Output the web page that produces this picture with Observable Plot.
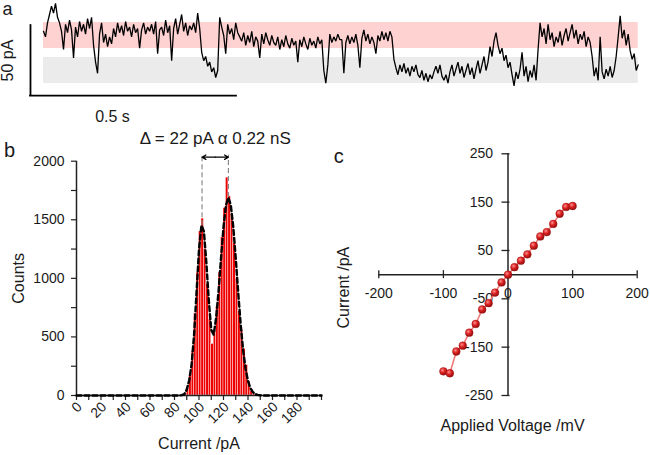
<!DOCTYPE html>
<html><head><meta charset="utf-8">
<script src="https://cdn.jsdelivr.net/npm/d3@7"></script>
<script src="https://cdn.jsdelivr.net/npm/@observablehq/plot@0.6"></script>
<style>
html,body{margin:0;padding:0;background:#fff;}
#root{position:relative;width:650px;height:455px;overflow:hidden;background:#fff;}
#root svg{position:absolute;overflow:visible;}
</style></head><body><div id="root"></div>
<script>
// ---------- Panel a: single-channel current trace (pA), sampled every sampleInterval s ----------
const traceCurrent = [
128,124,134, 140,146,141,148, 138,134, 128,115, 133,127,136,129, 109,
131,124,135,128,133,126,137,130, 138, 118,106,98, 126,134, 120,126,117,124,119,
130,124,134,127,132,125,135,128,131,124,133,127,130,116,129,134,126,131,128,
133,126,135,112,129, 131,125,136,127,132, 107, 130,137,126,133,140,128,134,125,132,
129,134,127,141,130, 113,107,110,103,106,99,102,95,100, 138,
131,125,112,133,126,130,122,134,127,124,
121,127,118,125,120,128,117,124,121,109,126,119,127,122,118,125,120,
118,124,115,122,117,125,119,116,123,118,121,106,122,117,124,119,115,123,118,121,116,124,119,122,
100,91,104, 126,120, 124,121,126,122,
122,98,120,125,119,124,120,126,118,102,123,129,121,126,119,124,120,112,125,121,128,122,127,121,128,124,
108,
102,97,104,99,105,98,102,96,103,99,104,97,
95,100,93,98,92,97,94,99,103,98,104,96,93,97,91,
99,104,96,101,106,98,103,95,100,105,97,102,94,
101,107,98,104,110,100,106,117,
110,121,127,
118,112,116,107,111,102,106,97,89,99,94,101,113,96,103,92,100,95,104,93,
115,
134,124,130,119,133,122,127,117,124,120,128,118,125,130,121,127,133,123,129,119,126,122,128,117,124,120,
110,
96,102,93,124,99,94,101,96,103,95,100,
110,124,139,123,129,118,126,114,108,112,100,104
];
const sampleInterval = 0.00486;        // s
const openBand = [115.7, 134.3];       // pA
const closedBand = [90.7, 109.3];      // pA
const scaleBarCurrent = 50;            // pA
const scaleBarTime = 0.5;              // s
const scaleBarLabels = ["50 pA", "0.5 s"];

// ---------- Panel b: all-points histogram ----------
const binWidth = 2;
const histLow = [88,90,92,94,96,98,100,102,104,106,108,110,112,114,116,118,120,122,124,126,128,130,132,134,136,138,140,142,144];
const histCounts = [15,60,170,380,700,1050,1400,1510,1250,950,650,440,560,760,1050,1350,1600,1860,1700,1550,1300,1000,720,560,400,260,120,40,10];
const fitCurrent = [0,84,86,88,90,92,94,96,98,100,102,104,106,108,110,112,114,116,118,120,122,124,126,128,130,132,134,136,138,140,142,144,146,148,150,152,200];
const fitCounts  = [0,0,3,12,50,130,270,520,880,1248,1453,1401,1134,811,560,520,664,896,1175,1437,1623,1690,1623,1436,1171,880,609,389,229,124,62,29,12,5,2,0,0];
const peakCurrents = [102.5, 124];
const peakCounts = [1450, 1690];
const annotation = "Δ = 22 pA α 0.22 nS";
const histXTicks = d3.range(0, 201, 10);
const histXLabels = d3.range(0, 181, 20);
const histYTicks = d3.range(0, 2001, 250);
const histYLabels = d3.range(0, 2001, 500);

// ---------- Panel c: I-V curve ----------
const ivVoltage = [-100,-90,-80,-70,-60,-50,-40,-30,-20,-10,0,10,20,30,40,50,60,70,80,90,100];
const ivCurrent = [-200,-204,-159,-147,-120,-102,-72,-59,-37,-16,0,15.5,29,42,60,79,88,105,126,140,142];
const ivXTicks = [-200,-100,100,200];
const ivXLabels = [-200,-100,0,100,200];
const ivYTicks = [-250,-150,-50,50,150,250];

// ---------- rendering ----------
const FONT = "'Liberation Sans', Arial, Helvetica, sans-serif";
const INK = "#1a1a1a";
const baseStyle = {fontFamily: FONT, fontSize: "14px", color: INK, background: "transparent", overflow: "visible"};
const C = {textAnchor: "middle", lineAnchor: "middle"};
const root = document.getElementById("root");

// Panel a
const trace = traceCurrent.map((v, i) => ({t: i * sampleInterval, v}));
const tEnd = (traceCurrent.length - 1) * sampleInterval;
const sbT = -0.0316, sbI = 82.1;
const plotA = Plot.plot({
  width: 650, height: 130, margin: 0,
  style: baseStyle,
  x: {domain: [-0.10437, 1.4733], axis: null},
  y: {domain: [57.14, 150], axis: null},
  marks: [
    Plot.rect([openBand], {x1: 0, x2: tEnd, y1: d => d[0], y2: d => d[1], fill: "#ffd2d2"}),
    Plot.rect([closedBand], {x1: 0, x2: tEnd, y1: d => d[0], y2: d => d[1], fill: "#ebebeb"}),
    Plot.line(trace, {x: "t", y: "v", stroke: "#000", strokeWidth: 1.3, strokeLinejoin: "miter"}),
    Plot.ruleX([sbT], {y1: sbI, y2: sbI + scaleBarCurrent, stroke: "#000", strokeWidth: 1.8, strokeLinecap: "square"}),
    Plot.ruleY([sbI], {x1: sbT, x2: sbT + scaleBarTime, stroke: "#000", strokeWidth: 1.8, strokeLinecap: "square"}),
    Plot.text([scaleBarLabels[0]], {...C, frameAnchor: "top-left", dx: 7, dy: 60, rotate: -90, fontSize: 16}),
    Plot.text([scaleBarLabels[1]], {...C, frameAnchor: "top-left", dx: 112, dy: 116, fontSize: 16}),
    Plot.text(["a"], {textAnchor: "start", lineAnchor: "top", frameAnchor: "top-left", dx: 2, dy: 2, fontSize: 18})
  ]
});
plotA.style.left = "0px"; plotA.style.top = "0px";
root.appendChild(plotA);

// Panel b
const hist = histLow.map((lo, i) => ({lo, hi: lo + binWidth, n: histCounts[i]}));
const fit = fitCurrent.map((x, i) => ({x, y: fitCounts[i]}));
const guideTop = 2050, arrowCount = 2034;
const mid = (peakCurrents[0] + peakCurrents[1]) / 2;
const plotB = Plot.plot({
  width: 330, height: 325, marginLeft: 76, marginRight: 9, marginTop: 30.7, marginBottom: 60,
  style: baseStyle,
  x: {domain: [0, 200], axis: null},
  y: {domain: [0, 2000], axis: null},
  marks: [
    Plot.rectY(hist, {x1: "lo", x2: "hi", y: "n", fill: "#ee0000", stroke: "#fff", strokeWidth: 0.4}),
    Plot.ruleX(peakCurrents, {y1: (d, i) => peakCounts[i], y2: guideTop, stroke: "#8a8a8a", strokeWidth: 1.2, strokeDasharray: "5,3"}),
    Plot.arrow([peakCurrents[0], peakCurrents[1]], {x1: mid, x2: d => d, y1: arrowCount, y2: arrowCount, stroke: "#000", strokeWidth: 1.3, headLength: 6}),
    Plot.ruleY([0], {x1: 0, x2: 200, stroke: "#222", strokeWidth: 1.5}),
    Plot.ruleX([0], {y1: 0, y2: 2000, stroke: "#222", strokeWidth: 1.5}),
    Plot.ruleX(histXTicks, {y1: 0, y2: 0, insetBottom: -5, stroke: "#222", strokeWidth: 1.2}),
    Plot.ruleY(histYTicks, {x1: 0, x2: 0, insetLeft: -5, stroke: "#222", strokeWidth: 1.2}),
    Plot.line(fit, {x: "x", y: "y", stroke: "#000", strokeWidth: 2.4, strokeDasharray: "5,3"}),
    Plot.text(histYLabels, {x: 0, y: d => d, text: d => String(d), dx: -12, textAnchor: "end"}),
    Plot.text(histXLabels, {x: d => d, y: 0, text: d => String(d), rotate: -45, textAnchor: "end", dx: 3, dy: 9}),
    Plot.text(["Counts"], {...C, frameAnchor: "left", dx: -58, rotate: -90, fontSize: 16}),
    Plot.text(["Current /pA"], {...C, frameAnchor: "bottom", dy: 48, fontSize: 16}),
    Plot.text([annotation], {...C, x: mid, y: arrowCount, dy: -19, fontSize: 17}),
    Plot.text(["b"], {...C, frameAnchor: "top-left", dx: -67, dy: -11, fontSize: 20})
  ]
});
plotB.style.left = "0px"; plotB.style.top = "130px";
root.appendChild(plotB);

// Panel c
const iv = ivVoltage.map((v, i) => ({v, c: ivCurrent[i]}));
const plotC = Plot.plot({
  width: 320, height: 325, marginLeft: 48.3, marginRight: 13.3, marginTop: 23.3, marginBottom: 60,
  style: baseStyle,
  x: {domain: [-200, 200], axis: null},
  y: {domain: [-250, 250], axis: null},
  marks: [
    Plot.ruleY([0], {x1: -200, x2: 200, stroke: "#222", strokeWidth: 1.5}),
    Plot.ruleX([0], {y1: -250, y2: 250, stroke: "#222", strokeWidth: 1.5}),
    Plot.ruleX(ivXTicks, {y1: 0, y2: 0, insetTop: -4, insetBottom: -4, stroke: "#222", strokeWidth: 1.3}),
    Plot.ruleY(ivYTicks, {x1: 0, x2: 0, insetLeft: -6, insetRight: -2, stroke: "#222", strokeWidth: 1.3}),
    Plot.text(ivXLabels, {x: d => d, y: 0, text: d => String(d), dy: 19}),
    Plot.text(ivYTicks, {x: 0, y: d => d, text: d => String(d), dx: -15, textAnchor: "end"}),
    Plot.line(iv, {x: "v", y: "c", stroke: "#f07a7a", strokeWidth: 1.6}),
    Plot.dot(iv, {x: "v", y: "c", r: 3.9, fill: "url(#ivBall)", stroke: "#9a1010", strokeWidth: 0.4}),
    Plot.text(["Current /pA"], {...C, frameAnchor: "left", dx: -35, dy: 13, rotate: -90, fontSize: 16}),
    Plot.text(["Applied Voltage /mV"], {...C, frameAnchor: "bottom", dx: 4.5, dy: 30, fontSize: 16}),
    Plot.text(["c"], {...C, frameAnchor: "top-left", dx: -40, dy: 3, fontSize: 20})
  ]
});
const defs = document.createElementNS("http://www.w3.org/2000/svg", "defs");
defs.innerHTML = '<radialGradient id="ivBall" cx="0.38" cy="0.35" r="0.7"><stop offset="0" stop-color="#ff9090"/><stop offset="0.45" stop-color="#dc2222"/><stop offset="1" stop-color="#8c0b0b"/></radialGradient>';
plotC.prepend(defs);
plotC.style.left = "330px"; plotC.style.top = "130px";
root.appendChild(plotC);
</script></body></html>
